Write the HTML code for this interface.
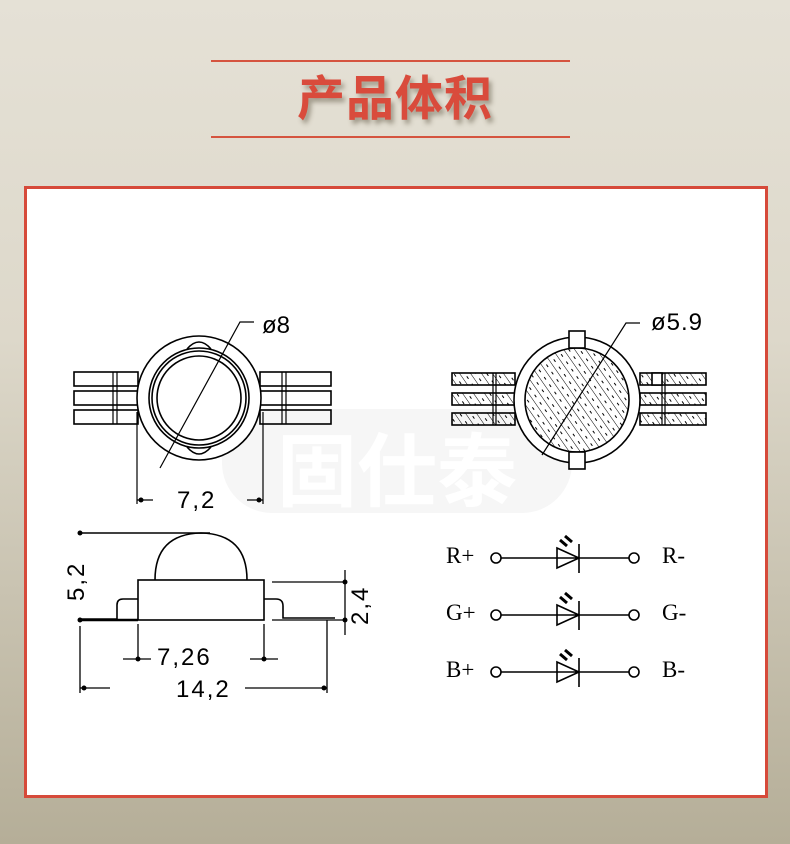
<!DOCTYPE html>
<html><head><meta charset="utf-8"><style>
html,body{margin:0;padding:0}
body{width:790px;height:844px;background:linear-gradient(#e5e1d6,#ddd8ca 40%,#b5ae98);position:relative;overflow:hidden;font-family:"Liberation Sans","Noto Sans CJK SC",sans-serif}
.ln{position:absolute;left:211px;width:359px;height:2px;background:#d5543f}
.title{position:absolute;left:0;width:790px;top:68px;text-align:center;font-size:48px;font-weight:bold;color:#d94b3c;letter-spacing:1px;text-shadow:3px 4px 5px rgba(80,70,50,.45);line-height:64px}
.box{position:absolute;left:24px;top:186px;width:738px;height:606px;border:3px solid #d64a3a;background:#fff}
svg{position:absolute;left:0;top:0}
</style></head><body>
<div class="ln" style="top:60px"></div>
<div class="title">产品体积</div>
<div class="ln" style="top:136px"></div>
<div class="box"></div>
<svg width="790" height="844" viewBox="0 0 790 844" font-family="Liberation Sans, DejaVu Sans, sans-serif">
<defs><pattern id="h" width="9" height="9" patternUnits="userSpaceOnUse" patternTransform="rotate(-35)"><line x1="0" y1="0" x2="0" y2="9" stroke="#000" stroke-width="1"/><line x1="4.5" y1="0" x2="4.5" y2="3" stroke="#000" stroke-width="1"/></pattern></defs>
<!-- watermark -->
<rect x="222" y="409" width="350" height="104" rx="50" fill="#f6f6f6"/>
<text x="397" y="500" font-family="Noto Sans CJK SC,sans-serif" font-size="80" font-weight="bold" fill="#fff" text-anchor="middle">固仕泰</text>
<g fill="none" stroke="#000" stroke-width="1.6">
<g>
<rect x="74" y="372" width="64" height="14"/><rect x="74" y="391" width="64" height="14"/><rect x="74" y="410" width="64" height="14"/>
<rect x="260" y="372" width="71" height="14"/><rect x="260" y="391" width="71" height="14"/><rect x="260" y="410" width="71" height="14"/>
<path d="M113 372v52M117 372v52M282 372v52M286 372v52" stroke-width="1.2"/>
</g>
<circle cx="199" cy="398" r="62" fill="#fff"/>
<circle cx="199" cy="398" r="50"/><circle cx="199" cy="398" r="47"/><circle cx="199" cy="398" r="42"/>
<path d="M187 349q12-14 24 0M187 447q12 14 24 0"/>
<path d="M160 468L240 322h14" stroke-width="1.2"/>
<path d="M137 412v92M263 412v92M137 500h16M247 500h16" stroke-width="1.2"/>
<rect x="452" y="373" width="63" height="12" fill="url(#h)"/><rect x="452" y="393" width="63" height="12" fill="url(#h)"/><rect x="452" y="413" width="63" height="12" fill="url(#h)"/>
<rect x="640" y="373" width="66" height="12" fill="url(#h)"/><rect x="640" y="393" width="66" height="12" fill="url(#h)"/><rect x="640" y="413" width="66" height="12" fill="url(#h)"/>
<path d="M493 373v52M496 373v52M662 373v52M665 373v52" stroke-width="1.2"/>
<rect x="652" y="373" width="10" height="12" fill="#fff"/>
<circle cx="577" cy="400" r="63" fill="#fff"/>
<circle cx="577" cy="400" r="52" fill="url(#h)"/>
<rect x="569" y="331" width="16" height="17" fill="#fff"/><rect x="569" y="452" width="16" height="17" fill="#fff"/>
<path d="M542 455L626 323h14" stroke-width="1.2"/>
<path d="M80 533h130"/>
<path d="M155 580q0-46 46-47q46 1 46 47"/>
<rect x="138" y="580" width="126" height="40" fill="#fff"/>
<path d="M138 599h-15q-6 0-6 6v14h-37M264 599h12q7 0 7 7v12h52"/>
<path d="M80 620h58" stroke-width="2.5"/>
<path d="M272 582h73M272 620h73M345 570v65M80 626v67M327 620v73M80 688h30M245 688h82M138 624v35M264 624v35M123 659h28M250 659h28" stroke-width="1.3"/>
</g>
<g fill="#000"><circle cx="80" cy="533" r="2.5"/><circle cx="80" cy="620" r="2.5"/><circle cx="345" cy="582" r="2.5"/><circle cx="345" cy="620" r="2.5"/><circle cx="84" cy="688" r="2.5"/><circle cx="324" cy="688" r="2.5"/><circle cx="141" cy="500" r="2.5"/><circle cx="259" cy="500" r="2.5"/><circle cx="138" cy="659" r="2.5"/><circle cx="264" cy="659" r="2.5"/></g>
<g font-size="24" fill="#000">
<text x="262" y="333">ø8</text>
<text x="651" y="330" letter-spacing="1">ø5.9</text>
<text x="177" y="508" letter-spacing="2">7,2</text>
<text x="157" y="665" letter-spacing="2">7,26</text>
<text x="176" y="697" letter-spacing="2">14,2</text>
<text transform="translate(84,601) rotate(-90)" letter-spacing="2">5,2</text>
<text transform="translate(368,625) rotate(-90)" letter-spacing="2">2,4</text>
</g>
<g font-family="Liberation Serif,serif" font-size="23" fill="#000">
<text x="446" y="563">R+</text><text x="662" y="563">R-</text>
<text x="446" y="620">G+</text><text x="662" y="620">G-</text>
<text x="446" y="677">B+</text><text x="662" y="677">B-</text>
</g>
<g fill="none" stroke="#000" stroke-width="1.6">
<g id="d"><circle cx="496" cy="558" r="5"/><circle cx="634" cy="558" r="5"/><path d="M501 558h128M557 548l22 10l-22 10zM579 544v29"/><path d="M560 540l7 6M565 536l7 6" stroke-width="3"/></g>
<use href="#d" y="57"/><use href="#d" y="114"/>
</g>
</svg>
</body></html>
